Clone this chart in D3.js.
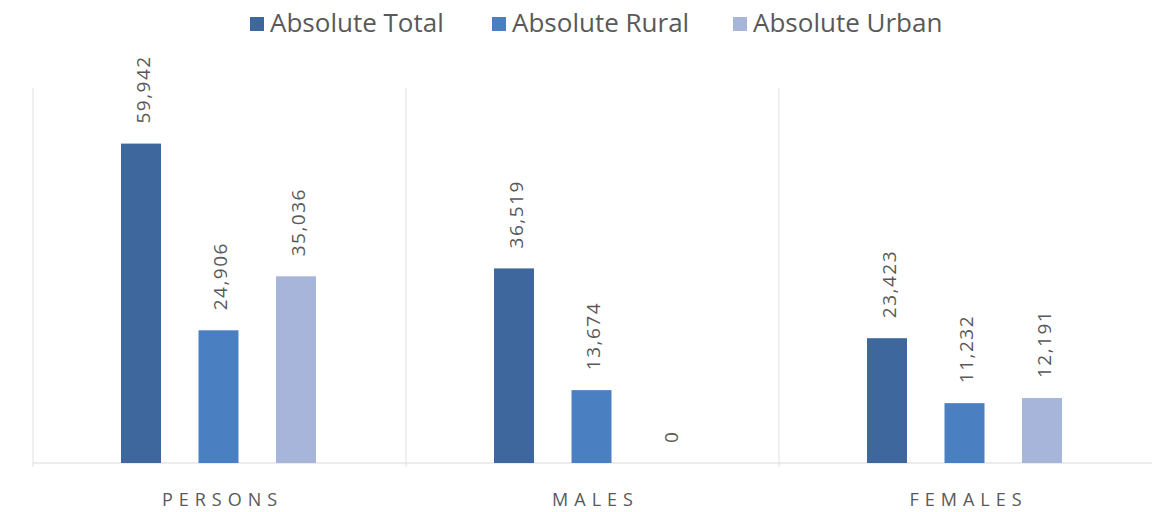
<!DOCTYPE html>
<html>
<head>
<meta charset="utf-8">
<script src="https://cdn.jsdelivr.net/npm/d3@7"></script>
<style>
  body { margin: 0; background: #fff; }
  text { font-family: "Open Sans", sans-serif; }
</style>
</head>
<body>
<svg width="1153" height="512"></svg>
<script>
// **** Data ****
var categories = ["PERSONS", "MALES", "FEMALES"];
var seriesNames = ["Absolute Total", "Absolute Rural", "Absolute Urban"];
var totalValues = [59942, 36519, 23423];
var ruralValues = [24906, 13674, 11232];
var urbanValues = [35036, 0, 12191];
var seriesColors = ["#3d679d", "#4a7fc1", "#a6b5d9"];

var seriesValues = [totalValues, ruralValues, urbanValues];

// **** Scales ****
var svg = d3.select('svg');

var x0 = d3.scaleBand()
    .domain(categories)
    .range([33, 1152]);

var x1 = d3.scaleBand()
    .domain(seriesNames)
    .range([88, 283])
    .paddingInner(0.484);

var yScale = d3.scaleLinear()
    .domain([0, 70000])
    .range([463, 90]);

var fmt = d3.format(",");

// group separators
svg.selectAll('line.sep')
    .data(categories)
    .enter()
    .append('line')
    .attr('class', 'sep')
    .attr('x1', function(d) { return x0(d); })
    .attr('x2', function(d) { return x0(d); })
    .attr('y1', yScale(70000) - 2)
    .attr('y2', yScale(0) + 4)
    .attr('stroke', '#e0e0e0')
    .attr('stroke-width', 1);

// baseline
svg.append('line')
    .attr('x1', x0.range()[0])
    .attr('x2', x0.range()[1])
    .attr('y1', yScale(0))
    .attr('y2', yScale(0))
    .attr('stroke', '#d9d9d9')
    .attr('stroke-width', 1);

// bars and labels
categories.forEach(function(cat, ci) {
    var g = svg.append('g')
        .attr('transform', 'translate(' + x0(cat) + ',0)');

    seriesNames.forEach(function(s, si) {
        var v = seriesValues[si][ci];
        g.append('rect')
            .attr('x', x1(s))
            .attr('y', yScale(v))
            .attr('width', x1.bandwidth())
            .attr('height', yScale(0) - yScale(v))
            .attr('fill', seriesColors[si]);

        var cx = x1(s) + x1.bandwidth() / 2 + 2;
        var cy = yScale(v) - 20;
        g.append('text')
            .attr('transform', 'translate(' + cx + ',' + cy + ') rotate(-90)')
            .attr('dy', '0.35em')
            .style('font-size', '19px')
            .style('letter-spacing', '1.5px')
            .style('fill', '#595959')
            .text(fmt(v));
    });

    // category label
    svg.append('text')
        .attr('x', x0(cat) + x0.bandwidth() / 2 + 3)
        .attr('y', 506)
        .style('text-anchor', 'middle')
        .style('font-size', '18px')
        .style('letter-spacing', '6px')
        .style('fill', '#595959')
        .text(cat);
});

// **** Legend ****
var legendX = [250, 492, 733];
var legend = svg.append('g');
seriesNames.forEach(function(s, i) {
    legend.append('rect')
        .attr('x', legendX[i])
        .attr('y', 17)
        .attr('width', 14)
        .attr('height', 14)
        .attr('fill', seriesColors[i]);
    legend.append('text')
        .attr('x', legendX[i] + 20)
        .attr('y', 32)
        .style('font-size', '26px')
        .style('fill', '#595959')
        .text(s);
});
</script>
</body>
</html>
